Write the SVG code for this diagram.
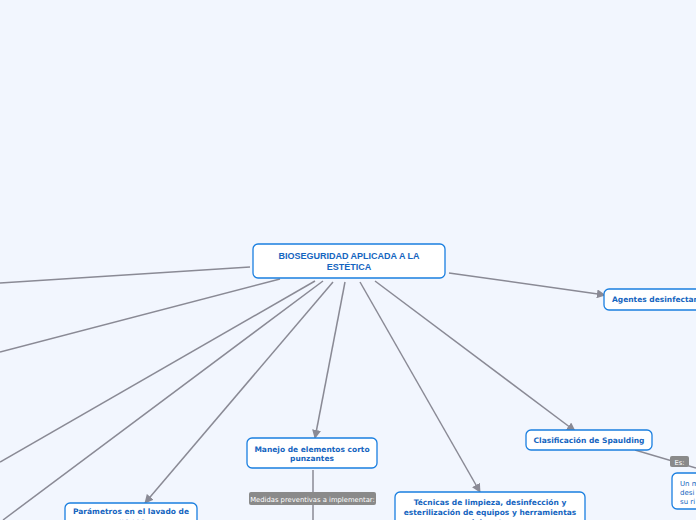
<svg xmlns="http://www.w3.org/2000/svg" width="696" height="520" viewBox="0 0 696 520">
<style>
.n{fill:#fff;stroke:#1a7fe0;stroke-width:1.3}
.t{font-family:Verdana,"DejaVu Sans",sans-serif;font-size:7.5px;font-weight:bold;fill:#1565c0;text-anchor:middle}
.c{stroke:#8a8a95;stroke-width:1.5;fill:none}
.l{fill:#8a8a8a}
.lt{font-family:Verdana,"DejaVu Sans",sans-serif;font-size:6.8px;fill:#fff;text-anchor:middle}
</style>
<defs><marker id="a" viewBox="0 0 10 10" refX="9" refY="5" markerWidth="6" markerHeight="6" orient="auto"><path d="M0,0L10,5L0,10z" fill="#8a8a95"/></marker></defs>
<rect width="696" height="520" fill="#f2f6fe"/>
<g id="connectors">
<path class="c" d="M250,267L0,283"/>
<path class="c" d="M280,279L0,352"/>
<path class="c" d="M315,281L0,462"/>
<path class="c" d="M323,281L3,520"/>
<path class="c" d="M333,282L145,503" marker-end="url(#a)"/>
<path class="c" d="M345,282L315,438" marker-end="url(#a)"/>
<path class="c" d="M360,282L480,492" marker-end="url(#a)"/>
<path class="c" d="M375,281L575,431" marker-end="url(#a)"/>
<path class="c" d="M449,273L605,295" marker-end="url(#a)"/>
<path class="c" d="M313,470L313,520"/>
<path class="c" d="M635,450L696,468"/>
<rect class="l" x="249" y="492" width="127" height="13" rx="2"/>
<text class="lt" x="312.5" y="501.5">Medidas preventivas a implementar:</text>
<rect class="l" x="670" y="456" width="19" height="11" rx="2"/>
<text class="lt" x="679.5" y="464.5">Es:</text>
</g>
<g id="center"><rect class="n" x="253" y="244" width="192" height="34" rx="5"/>
<text class="t" x="349" y="259" style="font-family:'Liberation Sans',Arial,sans-serif;font-size:9px">BIOSEGURIDAD APLICADA A LA</text><text class="t" x="349" y="270" style="font-family:'Liberation Sans',Arial,sans-serif;font-size:9px">ESTÉTICA</text></g>
<g id="manejo"><rect class="n" x="247" y="438" width="130" height="30" rx="5"/>
<text class="t" x="312" y="452">Manejo de elementos corto</text><text class="t" x="312" y="461">punzantes</text></g>
<g id="tecnicas"><rect class="n" x="395" y="492" width="190" height="40" rx="5"/>
<text class="t" x="490" y="505">Técnicas de limpieza, desinfección y</text><text class="t" x="490" y="515">esterilización de equipos y herramientas</text><text class="t" x="490" y="525">del sector</text></g>
<g id="spaulding"><rect class="n" x="526" y="430" width="126" height="20" rx="5"/>
<text class="t" x="589" y="443">Clasificación de Spaulding</text></g>
<g id="agentes"><rect class="n" x="604" y="289" width="110" height="21" rx="5"/>
<text class="t" x="612" y="302" style="text-anchor:start">Agentes desinfectantes</text></g>
<g id="parametros"><rect class="n" x="65" y="503" width="132" height="30" rx="5"/>
<text class="t" x="131" y="514">Parámetros en el lavado de</text><text class="t" x="131" y="524">manos</text></g>
<g id="es"><rect x="672" y="473" width="40" height="36" rx="5" fill="#fff" stroke="#1a7fe0" stroke-width="1.3"/>
<text x="680" y="486" font-family="Verdana,'DejaVu Sans',sans-serif" font-size="7px" fill="#1565c0">Un m</text>
<text x="680" y="495" font-family="Verdana,'DejaVu Sans',sans-serif" font-size="7px" fill="#1565c0">desi</text>
<text x="680" y="504" font-family="Verdana,'DejaVu Sans',sans-serif" font-size="7px" fill="#1565c0">su ri</text></g>
</svg>
